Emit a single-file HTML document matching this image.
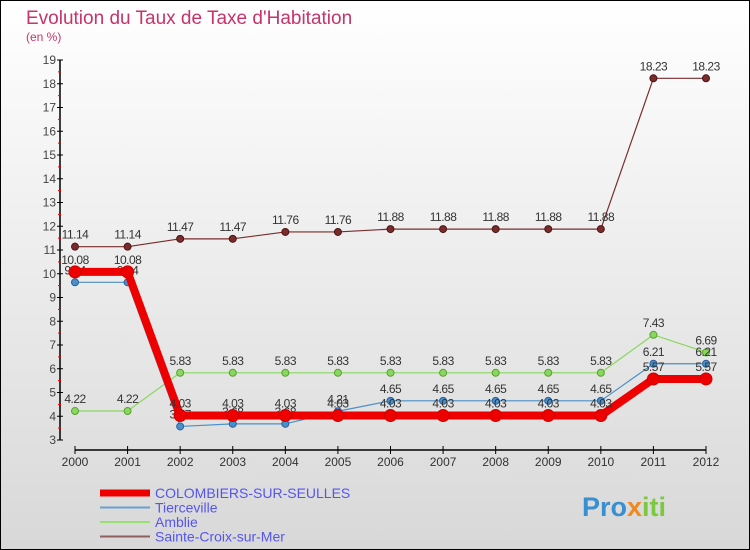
<!DOCTYPE html>
<html><head><meta charset="utf-8"><style>
body{margin:0}
svg{display:block;font-family:"Liberation Sans",sans-serif}
</style></head><body>
<svg id="c" width="750" height="550" viewBox="0 0 750 550">
<defs><linearGradient id="bg" x1="0" y1="0" x2="0" y2="1"><stop offset="0" stop-color="#ffffff"/><stop offset="1" stop-color="#d8d8d8"/></linearGradient></defs>
<rect x="0.5" y="0.5" width="749" height="549" fill="url(#bg)" stroke="#000"/>
<text x="26" y="24" font-size="19" fill="#c8336a">Evolution du Taux de Taxe d'Habitation</text>
<text x="26" y="41" font-size="12" fill="#c8336a">(en %)</text>
<g id="axes"></g><g id="series"></g><g id="legend"></g>
<text x="582" y="516" font-size="27" font-weight="bold" fill="#3a8fd0">Pro<tspan fill="#f08a20">x</tspan><tspan fill="#7cc840">iti</tspan></text>
</svg>
<script>
const years=[2000,2001,2002,2003,2004,2005,2006,2007,2008,2009,2010,2011,2012];
const colombiers=[10.08,10.08,4.03,4.03,4.03,4.03,4.03,4.03,4.03,4.03,4.03,5.57,5.57];
const tierceville=[9.64,9.64,3.57,3.68,3.68,4.21,4.65,4.65,4.65,4.65,4.65,6.21,6.21];
const amblie=[4.22,4.22,5.83,5.83,5.83,5.83,5.83,5.83,5.83,5.83,5.83,7.43,6.69];
const sainteCroix=[11.14,11.14,11.47,11.47,11.76,11.76,11.88,11.88,11.88,11.88,11.88,18.23,18.23];
const yTicks=[3,4,5,6,7,8,9,10,11,12,13,14,15,16,17,18,19];
const NS="http://www.w3.org/2000/svg";
const x=i=>75+i*(706-75)/(years.length-1);
const y=v=>440-(v-3)*(380/16);
function mk(tag,attrs,parent,txt){const e=document.createElementNS(NS,tag);for(const k in attrs)e.setAttribute(k,attrs[k]);if(txt!==undefined)e.textContent=txt;parent.appendChild(e);return e;}
const ax=document.getElementById('axes');
let e=mk('line',{x1:60,y1:y(19),x2:60,y2:y(3),stroke:'#000','stroke-width':1.5},ax);


yTicks.forEach(t=>{
 mk('line',{x1:57,y1:y(t),x2:63,y2:y(t),stroke:'#000'},ax);
 if(t<19)mk('line',{x1:58,y1:y(t+0.5),x2:61,y2:y(t+0.5),stroke:'#e00'},ax);
 let l=mk('text',{x:56,y:y(t)+4,'font-size':12,'text-anchor':'end',fill:'#444'},ax,t);
 
 
});
e=mk('line',{x1:x(0),y1:450,x2:x(12),y2:450,stroke:'#000','stroke-width':1.5},ax);


years.forEach((yr,i)=>{
 mk('line',{x1:x(i),y1:446,x2:x(i),y2:454,stroke:'#000'},ax);
 let l=mk('text',{x:x(i),y:466,'font-size':12,'text-anchor':'middle',fill:'#333'},ax,yr);
 
 
});
const sg=document.getElementById('series');
function series(vals,color,w,r,name,dark){
 const g=mk('g',{},sg);
 
 
 mk('polyline',{points:vals.map((v,i)=>x(i)+','+y(v)).join(' '),fill:'none',stroke:color,'stroke-width':w,'stroke-linejoin':'round'},g);
 vals.forEach((v,i)=>{
  const c=mk('circle',{cx:x(i),cy:y(v),r:r,fill:color,stroke:dark,'stroke-width':1},g);
  
  
  const t=mk('text',{x:x(i),y:y(v)-8,'font-size':12,'text-anchor':'middle',fill:'#333','letter-spacing':'-0.5'},g,v);
  
  
 });
}
series(sainteCroix,'#7a2c2c',1.2,3.5,'sainte-croix','#4a1414');
series(amblie,'#88d860',1.2,3.5,'amblie','#5aa030');
series(tierceville,'#4a90c8',1.2,3.5,'tierceville','#2a60a0');
series(colombiers,'#ee0000',8,6,'colombiers','#cc0000');
const lg=document.getElementById('legend');
const items=[['COLOMBIERS-SUR-SEULLES','#ee0000',7],['Tierceville','#6aa0d0',2],['Amblie','#98e070',2],['Sainte-Croix-sur-Mer','#906060',2]];
items.forEach((it,k)=>{
 const yy=493+k*14.5;
 const g=mk('g',{},lg);
 
 
 mk('line',{x1:100,y1:yy,x2:150,y2:yy,stroke:it[1],'stroke-width':it[2]},g);
 mk('text',{x:155,y:yy+5,'font-size':14,fill:'#5555ee'},g,it[0]);
});
</script>
</body></html>
